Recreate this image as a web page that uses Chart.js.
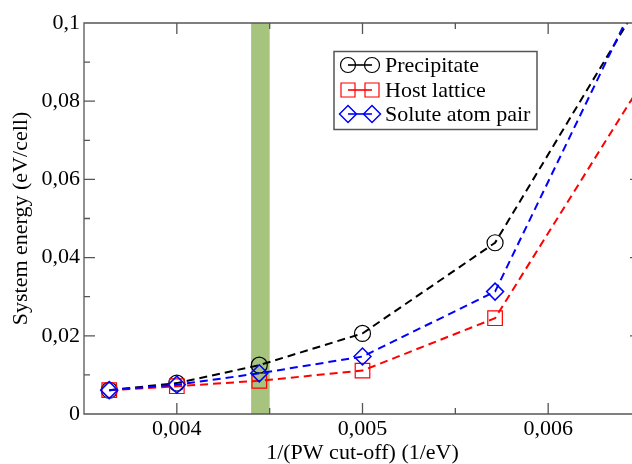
<!DOCTYPE html>
<html>
<head>
<meta charset="utf-8">
<script src="https://cdn.jsdelivr.net/npm/chart.js@4/dist/chart.umd.min.js"></script>
<style>
  html, body { margin: 0; padding: 0; background: #fff; overflow: hidden; }
  #wrap { width: 642px; height: 464px; position: relative; }
</style>
</head>
<body>
<div id="wrap"><canvas id="chart"></canvas></div>
<script>
// data
const cutoffInv   = [0.003636, 0.004, 0.004444, 0.005, 0.005714, 0.006667];
const precipitate = [0.0061, 0.0079, 0.0125, 0.0206, 0.0438, 0.119];
const hostLattice = [0.0061, 0.0071, 0.0085, 0.0111, 0.0245, 0.097];
const solutePair  = [0.0061, 0.0075, 0.0104, 0.0147, 0.0313, 0.125];
const seriesNames = ['Precipitate', 'Host lattice', 'Solute atom pair'];

const xTicks      = [0.004, 0.005, 0.006];
const xMinorTicks = [0.0045, 0.0055];
const yTicks      = [0, 0.02, 0.04, 0.06, 0.08, 0.1];
const yMinorTicks = [0.01, 0.03, 0.05, 0.07, 0.09];
const band        = [0.0044, 0.0045];

const FONT = '"Liberation Serif", "Times New Roman", serif';
const FRAME = '#555';

function fmt(v) {
  if (v === 0) return '0';
  return String(+v.toFixed(4)).replace('.', ',');
}

const pts = ys => ys.map((y, i) => ({ x: cutoffInv[i], y }));

// green band behind the lines
const bandPlugin = {
  id: 'band',
  beforeDatasetsDraw(chart) {
    const { ctx, chartArea: a, scales: { x } } = chart;
    const x0 = x.getPixelForValue(band[0]);
    const x1 = x.getPixelForValue(band[1]);
    ctx.save();
    ctx.fillStyle = '#a6c47e';
    ctx.fillRect(x0, a.top, x1 - x0, a.bottom - a.top);
    ctx.restore();
  }
};

// box frame with inward ticks on all four sides
const framePlugin = {
  id: 'frame',
  afterDatasetsDraw(chart) {
    const { ctx, chartArea: a, scales: { x, y } } = chart;
    ctx.save();
    ctx.strokeStyle = FRAME;
    ctx.lineWidth = 1.3;
    ctx.beginPath();
    ctx.rect(a.left, a.top, a.right - a.left, a.bottom - a.top);
    const xt = (v, len) => {
      const px = x.getPixelForValue(v);
      ctx.moveTo(px, a.bottom); ctx.lineTo(px, a.bottom - len);
      ctx.moveTo(px, a.top);    ctx.lineTo(px, a.top + len);
    };
    const yt = (v, len) => {
      const py = y.getPixelForValue(v);
      ctx.moveTo(a.left, py);  ctx.lineTo(a.left + len, py);
      ctx.moveTo(a.right, py); ctx.lineTo(a.right - len, py);
    };
    xTicks.forEach(v => xt(v, 11));
    xMinorTicks.forEach(v => xt(v, 6));
    yTicks.forEach(v => yt(v, 11));
    yMinorTicks.forEach(v => yt(v, 6));
    ctx.stroke();
    ctx.restore();
  }
};

// legend: two symbols joined by a line, then the name
function drawSymbol(ctx, style, cx, cy) {
  ctx.beginPath();
  if (style === 'circle') {
    ctx.arc(cx, cy, 7.5, 0, Math.PI * 2);
  } else if (style === 'rect') {
    ctx.rect(cx - 7, cy - 7, 14, 14);
  } else {
    ctx.moveTo(cx - 8.5, cy); ctx.lineTo(cx, cy - 8.5);
    ctx.lineTo(cx + 8.5, cy); ctx.lineTo(cx, cy + 8.5);
    ctx.closePath();
  }
  ctx.stroke();
}

const legendPlugin = {
  id: 'boxLegend',
  afterDraw(chart) {
    const ctx = chart.ctx;
    ctx.save();
    ctx.strokeStyle = FRAME;
    ctx.lineWidth = 1.5;
    ctx.strokeRect(334, 51.5, 203, 78);
    const rows = [65, 90, 114];
    chart.data.datasets.forEach((ds, i) => {
      const cy = rows[i];
      ctx.strokeStyle = ds.borderColor;
      ctx.lineWidth = 1.6;
      ctx.beginPath();
      ctx.moveTo(348, cy); ctx.lineTo(372, cy);
      ctx.stroke();
      ctx.lineWidth = ds.pointBorderWidth;
      drawSymbol(ctx, ds.pointStyle, 348, cy);
      drawSymbol(ctx, ds.pointStyle, 372, cy);
      ctx.fillStyle = '#000';
      ctx.font = '22px ' + FONT;
      ctx.textBaseline = 'middle';
      ctx.textAlign = 'left';
      ctx.fillText(ds.label, 385, cy + 1);
    });
    ctx.restore();
  }
};

const common = {
  borderWidth: 2,
  borderDash: [8, 5],
  pointBackgroundColor: 'rgba(0,0,0,0)',
  tension: 0,
  clip: 0
};

new Chart(document.getElementById('chart'), {
  type: 'line',
  data: {
    datasets: [
      Object.assign({}, common, {
        label: seriesNames[0], data: pts(precipitate), order: 3,
        borderColor: '#000', pointBorderColor: '#000',
        pointStyle: 'circle', pointRadius: 8, pointBorderWidth: 1.2
      }),
      Object.assign({}, common, {
        label: seriesNames[1], data: pts(hostLattice), order: 2,
        borderColor: '#ff0000', pointBorderColor: '#ff0000',
        pointStyle: 'rect', pointRadius: 10.3, pointBorderWidth: 1.2
      }),
      Object.assign({}, common, {
        label: seriesNames[2], data: pts(solutePair), order: 1,
        borderColor: '#0000ff', pointBorderColor: '#0000ff',
        pointStyle: 'rectRot', pointRadius: 8.5, pointBorderWidth: 1.5
      })
    ]
  },
  options: {
    responsive: true,
    maintainAspectRatio: false,
    animation: false,
    events: [],
    layout: { autoPadding: false, padding: { left: 0, right: 1, top: 23, bottom: 0 } },
    plugins: { legend: { display: false }, tooltip: { enabled: false } },
    scales: {
      x: {
        type: 'linear',
        min: 0.0035,
        max: 0.0065,
        grid: { display: false, drawTicks: false },
        border: { display: false },
        afterBuildTicks: s => { s.ticks = xTicks.map(v => ({ value: v })); },
        afterFit: s => { s.height = 50; },
        ticks: {
          color: '#000', padding: 2, maxRotation: 0,
          font: { family: FONT, size: 22 },
          callback: v => fmt(v)
        },
        title: {
          display: true, text: '1/(PW cut-off) (1/eV)', color: '#000',
          font: { family: FONT, size: 22, lineHeight: 1 },
          padding: { top: 0, bottom: 0 }
        }
      },
      y: {
        type: 'linear',
        min: 0,
        max: 0.1,
        grid: { display: false, drawTicks: false },
        border: { display: false },
        afterBuildTicks: s => { s.ticks = yTicks.map(v => ({ value: v })); },
        afterFit: s => { s.width = 84; },
        ticks: {
          color: '#000', padding: 4,
          font: { family: FONT, size: 22 },
          callback: v => fmt(v)
        },
        title: {
          display: true, text: 'System energy (eV/cell)', color: '#000',
          font: { family: FONT, size: 22 },
          padding: { top: 8, bottom: 0 }
        }
      }
    }
  },
  plugins: [bandPlugin, framePlugin, legendPlugin]
});
</script>
</body>
</html>
